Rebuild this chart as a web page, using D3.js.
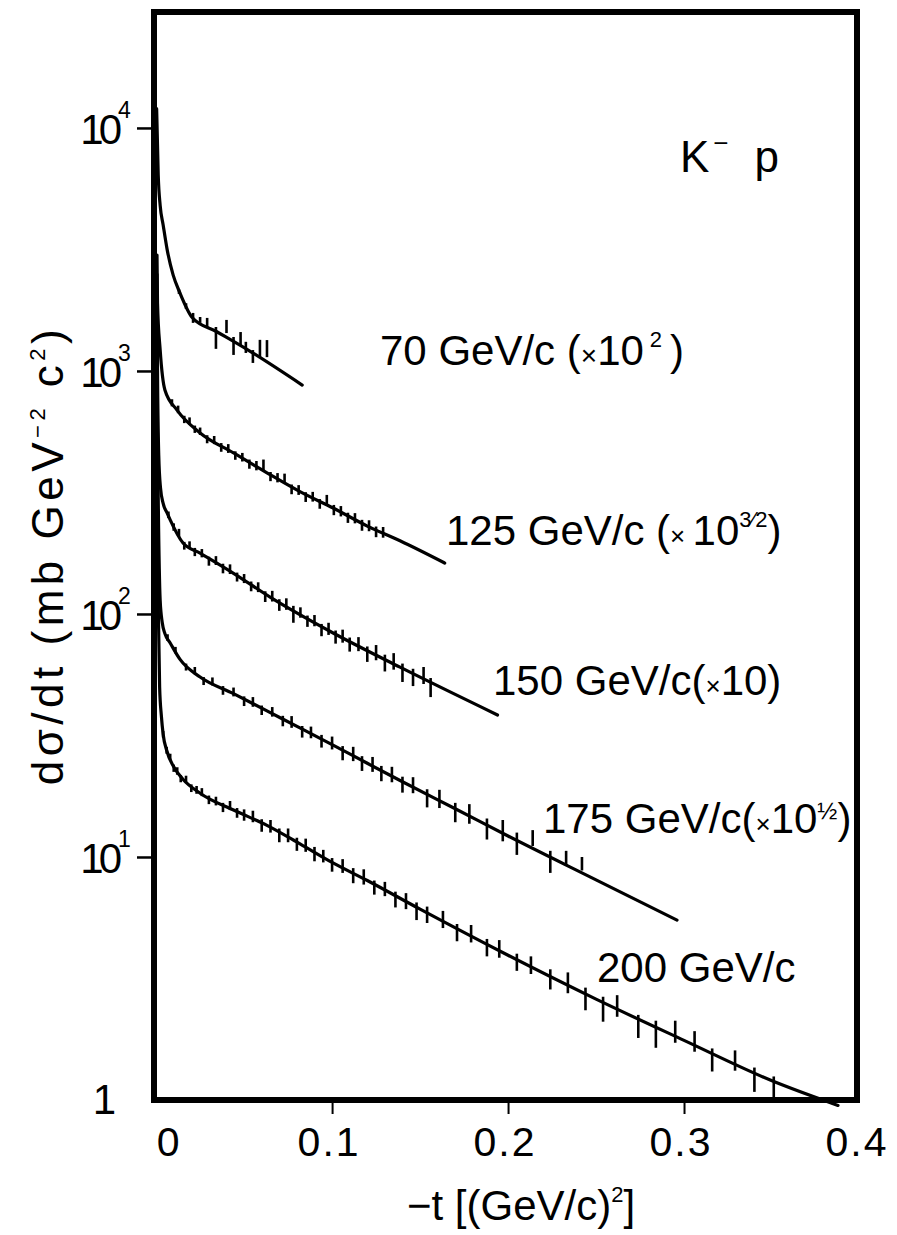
<!DOCTYPE html>
<html><head><meta charset="utf-8">
<script src="https://cdn.jsdelivr.net/npm/d3@7"></script>
<style>
html,body{margin:0;padding:0;background:#fff;}
svg{display:block;}
text{font-family:"Liberation Sans",Arial,sans-serif;fill:#000;}
</style></head><body>
<svg id="chart" width="897" height="1235"></svg>
<script>
// Fitted curves, [-t (GeV/c)^2, dσ/dt (mb GeV^-2 c^2)], already multiplied by the series factor
const fit70  = [[0.0003,12000],[0.0012,6400],[0.0023,4800],[0.004,3990],[0.0063,3150],[0.0097,2480],[0.0136,2090],[0.0205,1660],[0.0345,1450],[0.053,1210],[0.083,875]];
const fit125 = [[0.0005,3000],[0.0008,1900],[0.0023,1220],[0.005,835],[0.0119,690],[0.025,556],[0.044,460],[0.063,381],[0.082,318],[0.1006,273],[0.12,230],[0.1386,200],[0.164,162]];
const fit150 = [[0.0005,2500],[0.0008,1000],[0.0015,450],[0.0025,330],[0.004,285],[0.0063,260],[0.008,244],[0.0153,196],[0.025,178],[0.044,147],[0.065,117],[0.1006,83.5],[0.1386,60.4],[0.194,38.4]];
const fit175 = [[0.0005,1300],[0.0008,560],[0.0012,300],[0.0023,114],[0.0035,92],[0.005,83],[0.008,76],[0.0136,65],[0.025,55],[0.044,47],[0.063,39.9],[0.082,33.9],[0.1,29.0],[0.12,24.3],[0.14,20.4],[0.17,15.8],[0.2,12.2],[0.25,8.05],[0.296,5.5]];
const fit200 = [[0.0005,450],[0.0008,200],[0.0012,110],[0.002,50],[0.003,38],[0.004,32],[0.006,27.5],[0.01,23.5],[0.015,21.0],[0.025,18.3],[0.044,15.6],[0.063,13.5],[0.082,11.3],[0.1,9.5],[0.12,8.0],[0.15,6.1],[0.2,3.94],[0.25,2.6],[0.3,1.76],[0.35,1.2],[0.3875,0.95]];

// Measured points, [-t, dσ/dt, error]
const pts70 = [[0.013,2120,45],[0.017,1850,50],[0.021,1655,78],[0.025,1622,45],[0.029,1585,68],[0.034,1375,142],[0.040,1527,95],[0.044,1272,108],[0.048,1362,84],[0.051,1252,66],[0.055,1149,70],[0.059,1243,100],[0.063,1240,100]];
const pts125 = [[0.009,740,25],[0.0125,695,25],[0.016,632,22],[0.019,622,22],[0.022,576,20],[0.025,565,20],[0.029,524,20],[0.033,520,20],[0.037,485,20],[0.041,480,20],[0.045,449,18],[0.049,442,18],[0.053,414,18],[0.057,408,18],[0.061,410,22],[0.065,368,16],[0.069,364,16],[0.073,362,16],[0.077,326,15],[0.081,324,15],[0.085,303,14],[0.089,304,14],[0.093,284,13],[0.097,295,14],[0.101,268,13],[0.105,265,13],[0.109,249,12],[0.113,248,12],[0.117,232,12],[0.121,231,12],[0.125,218,11],[0.129,217,11]];
const pts150 = [[0.007,256,8],[0.010,228,8],[0.013,216,8],[0.016,191,7],[0.019,192,7],[0.022,180,7],[0.026,178,7],[0.030,165,7],[0.034,166,7],[0.038,154,7],[0.042,153,7],[0.046,142,6],[0.050,140,6],[0.054,130,6],[0.058,129,6],[0.062,118,6],[0.066,118.5,6],[0.070,109,6],[0.074,110,6],[0.078,100,8],[0.082,101.5,5],[0.086,93.5,5],[0.090,94,5],[0.094,86,5],[0.098,87,5],[0.102,80.5,5],[0.106,81.2,5],[0.110,75,5],[0.115,75.3,5],[0.120,68.5,5],[0.125,69.5,5],[0.130,63,5],[0.135,64,5],[0.140,57.5,5],[0.146,55,4.5],[0.152,56,4.5],[0.156,50,4.5]];
const pts175 = [[0.0065,80,2.5],[0.011,71,2.2],[0.017,60.5,2],[0.022,58.5,2],[0.027,53,2],[0.032,52.8,2],[0.038,48.5,2],[0.044,47.8,2],[0.050,43.8,2],[0.055,43.5,2],[0.060,40.2,1.8],[0.066,39.6,1.8],[0.072,36.3,1.8],[0.077,36.0,2],[0.083,32.8,1.8],[0.088,32.6,1.8],[0.094,30.0,1.8],[0.100,29.5,1.8],[0.106,26.8,1.8],[0.112,26.6,1.8],[0.117,24.3,1.7],[0.123,24.1,1.7],[0.128,22.1,1.6],[0.134,21.9,1.6],[0.140,19.9,1.5],[0.146,19.8,1.5],[0.154,17.5,1.5],[0.161,17.4,1.5],[0.170,15.3,1.4],[0.178,15.1,1.4],[0.188,13.1,1.3],[0.197,12.9,1.3],[0.205,11.4,1.2],[0.214,12.0,0.9],[0.224,9.6,1.0],[0.233,9.9,0.7],[0.242,9.4,0.6]];
const pts200 = [[0.004,32.0,1.0],[0.006,27.5,0.9],[0.008,25.8,0.8],[0.010,23.2,0.8],[0.012,22.6,0.8],[0.014,21.0,0.7],[0.017,20.9,0.7],[0.020,19.2,0.7],[0.023,18.9,0.7],[0.026,18.5,0.7],[0.030,17.2,0.7],[0.034,17.0,0.7],[0.038,16.0,0.7],[0.042,16.3,0.7],[0.046,15.2,0.7],[0.050,14.9,0.8],[0.055,14.7,0.8],[0.060,13.5,0.8],[0.065,13.4,0.8],[0.070,12.3,0.8],[0.075,12.3,0.8],[0.080,11.3,0.7],[0.085,11.2,0.7],[0.090,10.3,0.7],[0.095,10.1,0.6],[0.100,9.3,0.6],[0.106,9.2,0.6],[0.112,8.4,0.6],[0.118,8.3,0.6],[0.124,7.5,0.5],[0.130,7.4,0.5],[0.136,6.7,0.5],[0.142,6.6,0.5],[0.148,6.0,0.5],[0.154,5.8,0.45],[0.163,5.55,0.45],[0.171,4.9,0.4],[0.179,4.85,0.4],[0.188,4.25,0.35],[0.195,4.2,0.35],[0.205,3.7,0.3],[0.213,3.6,0.3],[0.224,3.15,0.3],[0.234,3.05,0.3],[0.244,2.62,0.28],[0.254,2.38,0.28],[0.262,2.45,0.25],[0.274,2.02,0.22],[0.284,1.88,0.24],[0.295,1.92,0.2],[0.306,1.75,0.17],[0.316,1.47,0.16],[0.329,1.46,0.14],[0.340,1.22,0.14],[0.351,1.13,0.12]];

// Axis ticks
const xTicks = [0, 0.1, 0.2, 0.3, 0.4];
const xTickLabels = ["0", "0.1", "0.2", "0.3", "0.4"];
const yTicks = [1, 10, 100, 1000, 10000];
const yTickExponents = ["", "1", "2", "3", "4"];

// Beam momenta of the five series
const seriesNames = ["70 GeV/c", "125 GeV/c", "150 GeV/c", "175 GeV/c", "200 GeV/c"];

const svg = d3.select("#chart");
const x = d3.scaleLinear().domain([-0.0012, 0.3983]).range([154, 857]);
const y = d3.scaleLog().domain([1, 30000]).range([1100, 12]);

const line = d3.line().x(d => x(d[0])).y(d => y(d[1])).curve(d3.curveMonotoneX);

// curves
[fit70, fit125, fit150, fit175, fit200].forEach(f => {
  svg.append("path").attr("d", line(f)).attr("fill", "none")
    .attr("stroke", "#000").attr("stroke-width", 3.2).attr("stroke-linecap", "round");
});

// error bars
[pts70, pts125, pts150, pts175, pts200].forEach(p => {
  svg.append("g").selectAll("line").data(p).join("line")
    .attr("x1", d => x(d[0])).attr("x2", d => x(d[0]))
    .attr("y1", d => y(d[1] - d[2])).attr("y2", d => y(d[1] + d[2]))
    .attr("stroke", "#000").attr("stroke-width", 2.6);
});

// frame
const [x0, x1] = x.range();
const [yb, yt] = y.range();
svg.append("rect").attr("x", x0).attr("y", yt).attr("width", x1 - x0).attr("height", yb - yt)
  .attr("fill", "none").attr("stroke", "#000").attr("stroke-width", 6);

// y ticks
const yAxis = d3.axisLeft(y).tickValues(yTicks.filter(v => v > 1)).tickSize(14).tickFormat("");
const gy = svg.append("g").attr("transform", `translate(${x0 - 3},0)`).call(yAxis);
gy.select(".domain").remove();
gy.selectAll(".tick line").attr("stroke", "#000").attr("stroke-width", 2.5);

// x ticks
const xAxis = d3.axisBottom(x).tickValues(xTicks.filter(v => v > 0 && v < 0.4)).tickSize(11).tickFormat("");
const gx = svg.append("g").attr("transform", `translate(0,${yb + 3})`).call(xAxis);
gx.select(".domain").remove();
gx.selectAll(".tick line").attr("stroke", "#000").attr("stroke-width", 2);

// y tick labels
yTicks.forEach((v, i) => {
  const yy = y(v);
  if (v === 1) {
    svg.append("text").attr("x", 116).attr("y", yy + 14).attr("text-anchor", "end")
      .attr("font-size", 42).text("1");
  } else {
    svg.append("text").attr("x", 117).attr("y", yy + 16).attr("text-anchor", "end")
      .attr("font-size", 42).attr("letter-spacing", -5).text("10");
    svg.append("text").attr("x", 118).attr("y", yy - 10).attr("font-size", 23).text(yTickExponents[i]);
  }
});

// x tick labels
xTicks.forEach((v, i) => {
  svg.append("text").attr("x", x(v) + (v === 0 ? 13 : -3)).attr("y", yb + 56)
    .attr("text-anchor", "middle").attr("font-size", 41).attr("letter-spacing", 2)
    .text(xTickLabels[i]);
});

// axis titles
const xt = svg.append("text").attr("x", 407).attr("y", 1220).attr("font-size", 42);
xt.append("tspan").text("−t [(GeV/c)");
xt.append("tspan").attr("font-size", 22).attr("dy", -18).text("2");
xt.append("tspan").attr("dy", 18).text("]");

const yt2 = svg.append("text").attr("transform", "translate(63,555) rotate(-90)")
  .attr("text-anchor", "middle").attr("font-size", 44).attr("letter-spacing", 4.5);
yt2.append("tspan").text("dσ/dt (mb GeV");
yt2.append("tspan").attr("font-size", 22).attr("dy", -18).text("−2");
yt2.append("tspan").attr("dy", 18).text(" c");
yt2.append("tspan").attr("font-size", 22).attr("dy", -18).text("2");
yt2.append("tspan").attr("dy", 18).text(")");

// reaction
const kp = svg.append("text").attr("x", 680).attr("y", 172).attr("font-size", 44);
kp.append("tspan").text("K");
kp.append("tspan").attr("font-size", 26).attr("dy", -20).attr("dx", 4).text("−");
kp.append("tspan").attr("dy", 20).attr("dx", 26).text("p");

// series captions with their scale factors
function caption(px, py, name, pieces) {
  const t = svg.append("text").attr("x", px).attr("y", py).attr("font-size", 42);
  t.append("tspan").text(name);
  pieces.forEach(p => {
    const s = t.append("tspan").text(p.s);
    if (p.size) s.attr("font-size", p.size);
    if (p.dy) s.attr("dy", p.dy);
    if (p.dx) s.attr("dx", p.dx);
  });
}
caption(380, 365, seriesNames[0] + " (", [{s: "×", size: 28}, {s: "10"}, {s: "2", size: 22, dy: -18, dx: 6}, {s: ")", dy: 18, dx: 8}]);
caption(446, 545, seriesNames[1] + " (", [{s: "× ", size: 26}, {s: "10"}, {s: "3⁄2", size: 22, dy: -18}, {s: ")", dy: 18}]);
caption(493, 695, seriesNames[2] + "(", [{s: "×", size: 26}, {s: "10)"}]);
caption(543, 833, seriesNames[3] + "(", [{s: "×", size: 26}, {s: "10"}, {s: "½", size: 24, dy: -14}, {s: ")", dy: 14}]);
caption(597, 982, seriesNames[4], []);
</script>
</body></html>
